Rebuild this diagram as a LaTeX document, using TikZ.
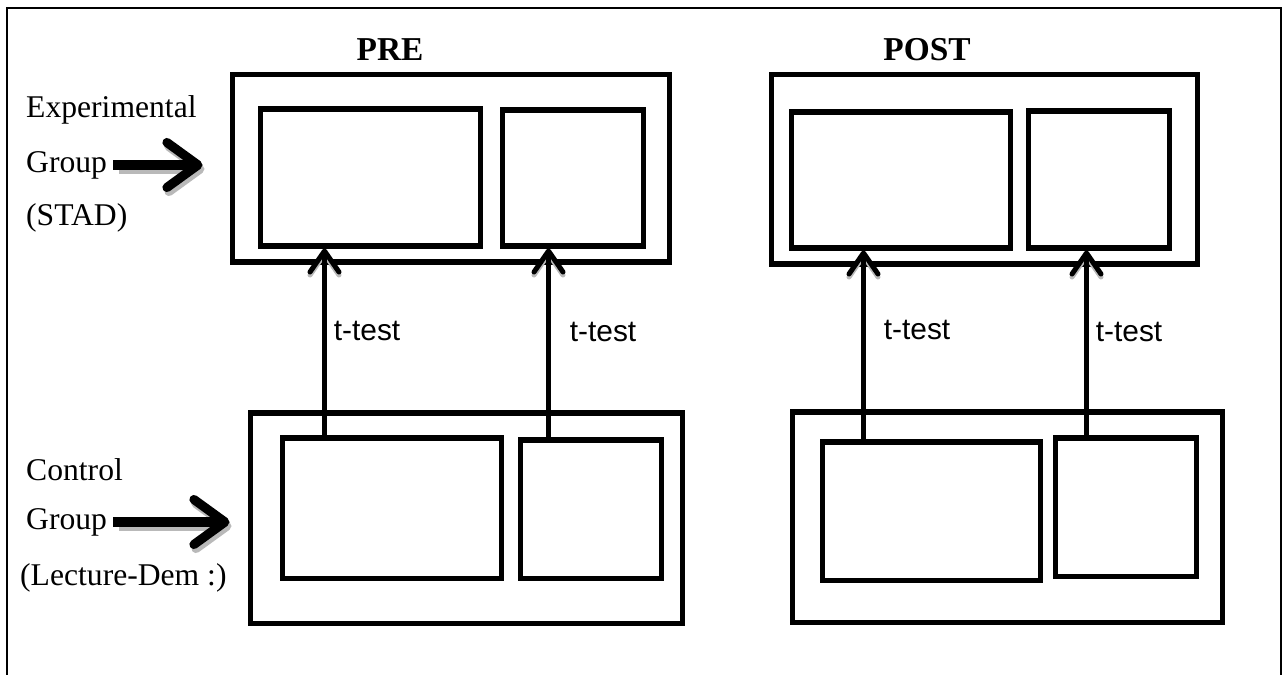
\documentclass[tikz,border=0pt]{standalone}
\usepackage{fontspec}
\setmainfont{Liberation Serif}
\setsansfont{Liberation Sans}
\usetikzlibrary{arrows.meta}

\begin{document}
\begin{tikzpicture}[x=0.02cm, y=-0.02cm]
  \tikzset{
    box/.style={draw, rectangle, line width=2.85pt, inner sep=0pt},
    size/.style 2 args={minimum width=#1*0.02cm, minimum height=#2*0.02cm},
    lbl/.style={font=\fontsize{18}{22}\selectfont, anchor=west},
    head/.style={font=\fontsize{19}{23}\selectfont\bfseries},
    tlabel/.style={font=\sffamily\fontsize{17}{20}\selectfont, inner sep=0pt},
    tline/.style={draw, line width=2.85pt, -{Straight Barb[length=0.42cm, width=0.58cm, round]}},
    garrow/.style={draw, line width=5.2pt, -{Straight Barb[length=0.62cm, width=0.9cm, round]}},
    shade/.style={draw=gray!55, shorten <=0.08cm}
  }
  \useasboundingbox (0,0) rectangle (1283,675);
  % page frame, bottom edge runs off the page
  \draw[line width=1.1pt] (7,700) -- (7,8) -- (1281,8) -- (1281,700);

  % pretest
  \node [head] (pre) at (390,50) {PRE};
  \node [box, size={437}{187}] (preE) at (450.5,168.5) {};
  \node [box, size={220}{137}] (preE1) at (370,177.5) {};
  \node [box, size={141}{136}] (preE2) at (572.5,178) {};
  \node [box, size={432}{210}] (preC) at (466,518) {};
  \node [box, size={219}{140}] (preC1) at (391.5,508) {};
  \node [box, size={141}{138}] (preC2) at (590.5,509) {};

  % posttest
  \node [head] (post) at (927,50) {POST};
  \node [box, size={426}{189}] (postE) at (984,169.5) {};
  \node [box, size={219}{136}] (postE1) at (900.5,180) {};
  \node [box, size={141}{137}] (postE2) at (1098.5,179.5) {};
  \node [box, size={430}{210}] (postC) at (1007,517) {};
  \node [box, size={218}{138}] (postC1) at (931,511) {};
  \node [box, size={141}{138}] (postC2) at (1125.5,507) {};

  % groups
  \node [lbl] (expA) at (20,110) {Experimental};
  \node [lbl] (expB) at (20,165) {Group};
  \node [lbl] (expC) at (20,218) {(STAD)};
  \node [lbl] (conA) at (20,470) {Control};
  \node [lbl] (conB) at (20,522) {Group};
  \node [lbl] (conC) at (14,578) {(Lecture-Dem :)};

  % t-test start points
  \path (preC1.north west) ++(45,0) coordinate (t1);
  \path (preC2.north west) ++(31,0) coordinate (t2);
  \path (postC1.north west) ++(44,0) coordinate (t3);
  \path (postC2.north west) ++(34,0) coordinate (t4);

  % grey shadow first, then the black arrows on top
  \foreach \gx/\gy/\tx/\ty/\ink in {2/4/0/3/shade, 0/0/0/0/draw} {
    \begin{scope}[transform canvas={shift={(\gx,\gy)}}]
      \path [garrow, shorten >=0.54cm, \ink] (expB.east) -- (expB.east -| preE.west);
      \path [garrow, shorten >=0.36cm, \ink] (conB.east) -- (conB.east -| preC.west);
    \end{scope}
    \begin{scope}[transform canvas={shift={(\tx,\ty)}}]
      \path [tline, \ink] (t1) -- (t1 |- preE1.south);
      \path [tline, \ink] (t2) -- (t2 |- preE2.south);
      \path [tline, \ink] (t3) -- (t3 |- postE1.south);
      \path [tline, \ink] (t4) -- (t4 |- postE2.south);
    \end{scope}
  }

  % t-test labels
  \path (t1) -- node[tlabel, pos=0.56, right=0.18cm]{t-test} (t1 |- preE1.south);
  \path (t2) -- node[tlabel, pos=0.56, right=0.42cm]{t-test} (t2 |- preE2.south);
  \path (t3) -- node[tlabel, pos=0.58, right=0.4cm]{t-test} (t3 |- postE1.south);
  \path (t4) -- node[tlabel, pos=0.56, right=0.18cm]{t-test} (t4 |- postE2.south);
\end{tikzpicture}
\end{document}
